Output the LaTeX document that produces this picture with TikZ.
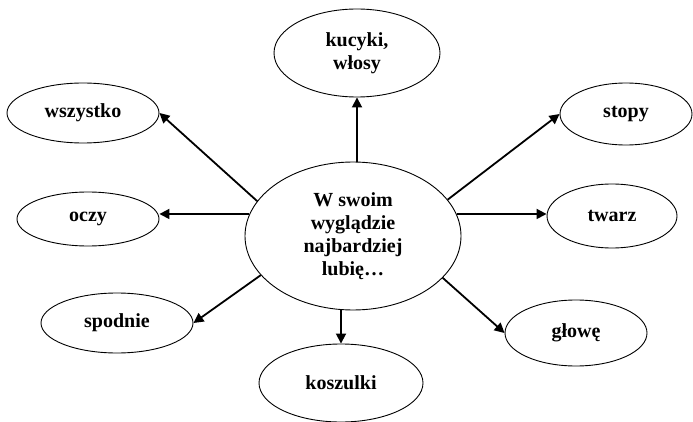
\documentclass[tikz,border=0pt]{standalone}
\usepackage{fontspec}
\setmainfont{Liberation Serif}
\usetikzlibrary{shapes.geometric,arrows.meta}
\begin{document}
\begin{tikzpicture}[x=1pt,y=-1pt,
  bub/.style={ellipse,draw,line width=0.9pt,inner sep=0pt,align=center,
    font=\bfseries\fontsize{20}{23}\selectfont},
  arr/.style={line width=1.8pt,-{Triangle[length=10pt,width=10pt]}}]
\useasboundingbox (0,0) rectangle (693,422);
\node[bub,minimum width=216pt,minimum height=148pt] (c) at (353,236) {W swoim\\wyglądzie\\najbardziej\\lubię…};
\node[bub,minimum width=166pt,minimum height=88pt] (k) at (357,53) {kucyki,\\włosy};
\node[bub,minimum width=152pt,minimum height=60pt] (w) at (83,113) {wszystko};
\node[bub,minimum width=142pt,minimum height=54pt] (o) at (88,219) {oczy};
\node[bub,minimum width=152pt,minimum height=60pt] (sp) at (117,323) {spodnie};
\node[bub,minimum width=164pt,minimum height=78pt] (ko) at (341,383) {koszulki};
\node[bub,minimum width=132pt,minimum height=62pt] (st) at (626,114) {stopy};
\node[bub,minimum width=130pt,minimum height=64pt] (tw) at (612,216) {twarz};
\node[bub,minimum width=142pt,minimum height=66pt] (g) at (576,333) {głowę};
\draw[arr] (k.south |- c.north) -- (k.south);
\draw[arr] (c.160) -- (w.east);
\draw[arr] (c.168) -- (o.east |- c.168);
\draw[arr] (c.203) -- (sp.east);
\draw[arr] (ko.north |- c.south) -- (ko.north);
\draw[arr] (c.21) -- (st.west);
\draw[arr] (c.12) -- (tw.west |- c.12);
\draw[arr] (c.-25) -- (g.west);
\end{tikzpicture}
\end{document}
